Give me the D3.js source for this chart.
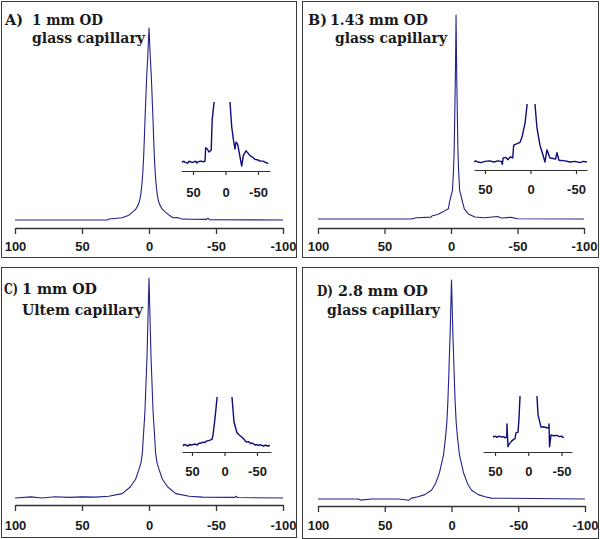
<!DOCTYPE html>
<html><head><meta charset="utf-8">
<script src="https://cdn.jsdelivr.net/npm/d3@7"></script>
<style>html,body{margin:0;padding:0;background:#fff}</style>
</head><body><svg id="c" width="600" height="539"></svg>
<script>
// ---------------- data ----------------
const panelLetters = ["A)", "B)", "C)", "D)"];
const titleLine1 = ["1 mm OD", "1.43 mm OD", "1 mm OD", "2.8 mm OD"];
const titleLine2 = ["glass capillary", "glass capillary", "Ultem capillary", "glass capillary"];
const mainTicks = [100, 50, 0, -50, -100];
const insetTicks = [50, 0, -50];

// main spectra: [ppm, relative intensity (peak = 100)]
const spectrumA = [[100,0],[60,0],[31,0],[30,0.5],[20,1.2],[15,2.5],[12.5,4],[10,5.5],[8,8],[7,10],[6,14],[5,21],[4.5,26],[4,33],[3.5,42],[3,52],[2.5,61],[2,70],[1.5,78],[1,84],[0.5,92],[0,100],[-0.5,92],[-1,84],[-1.5,78],[-2,70],[-2.5,61],[-3,52],[-3.5,42],[-4,33],[-4.5,26],[-5,21],[-6,14],[-7,10],[-8,8],[-10,5.5],[-12.5,4],[-15,2.5],[-18,1.2],[-21,1.3],[-24,0.6],[-30,0.4],[-43,0.3],[-44,1],[-45,0.2],[-100,0]];
const spectrumB = [[100,0],[30,0],[26,0.6],[15,0.9],[14,1.6],[10,2.2],[6,3.5],[2,5],[1.2,8],[-1.1,14],[-1.9,24],[-2.4,34],[-3.3,70],[-3.8,100],[-4.3,70],[-5.2,34],[-5.7,24],[-6.5,14],[-8.8,8],[-10,5],[-13,2.5],[-18,1],[-25,0.6],[-35,1.2],[-38,0.5],[-45,0.8],[-50,0.1],[-100,0]];
const spectrumC = [[100,0],[88,0.5],[80,0],[70,0.6],[60,0.3],[50,0.5],[40,0.4],[30,0.8],[20,2],[14,5],[10,8.5],[7.5,13],[6,16],[5,20],[4,30],[3.35,36],[3,40],[2,56],[1.5,64],[1,76],[0.5,88],[0,100],[-0.5,88],[-1,76],[-1.5,64],[-2,56],[-3,40],[-3.35,36],[-4,30],[-5,20],[-6,16],[-7.5,13],[-10,8.5],[-14,5],[-20,2],[-30,0.8],[-40,0.4],[-64,0.3],[-65,0.8],[-66,0.2],[-100,0]];
const spectrumD = [[100,0],[70,0],[68,-0.5],[60,0],[40,0],[32,-0.6],[30,0.4],[25,1],[20,2],[15,4],[12,7],[9,12],[7.5,16],[6,20],[4.5,28],[3.5,35],[2.75,44],[2,57],[1.5,67],[1,76],[0.5,88],[0,100],[-0.5,88],[-1,76],[-1.5,67],[-2,57],[-2.75,44],[-3.5,35],[-4.5,28],[-6,20],[-7.5,16],[-9,12],[-12,7],[-15,4],[-20,2],[-25,1],[-30,0.4],[-100,0]];

// insets: [ppm, intensity in inset units (0 = baseline, 100 = top of inset window)]
const insetA = [[67,1],[64,3],[62,1],[58,0],[56,3],[54,2],[50,1],[46,3],[44,0],[42,2],[38,3],[34,2],[31.5,3],[30.5,25],[28,23],[25.5,18],[22,21],[20.5,71],[17.5,100],[12,300],[5,800],[0,1000],[-3,400],[-6.9,100],[-9.5,60],[-12,39],[-14.6,23],[-16.2,34],[-18.7,31],[-22.3,10],[-24.9,-5],[-27.4,12],[-31.5,20],[-34,17],[-37.7,12],[-42,9],[-45.4,6],[-50,5],[-53,3],[-57,3],[-60,2],[-65.8,-1]];
const insetB = [[63,0],[60,2],[58,0],[54,-1],[50,1],[45,2],[40,0],[36,2],[32,1],[31,-4],[30,7],[27,8],[25,4],[22,9],[19.5,7],[18.5,29],[14,32],[11.5,34],[9.3,43],[6,67],[3.8,98],[0,400],[-2,400],[-4.9,100],[-7.1,59],[-10.4,29],[-13.7,12],[-15.9,0],[-18.1,21],[-21.4,7],[-25,6],[-27.5,5],[-29.1,16],[-31.3,3],[-37.9,2],[-43.4,0],[-48.9,1],[-54.4,-1],[-58,1],[-62,0]];
const insetC = [[64,0],[62,3],[60,2],[56,0],[54,3],[52,2],[48,3],[45,4],[42,2],[40,5],[36,6],[33,8],[30,7],[28,10],[25,11],[22,12],[19,14],[17.7,22],[14.6,57],[11.5,98],[5,400],[0,1000],[-5,400],[-11.5,100],[-14.6,49],[-19.2,27],[-23,22],[-26.9,18],[-30,14],[-32,10],[-34.6,8],[-37,9],[-40,5],[-43,6],[-46.9,2],[-50,3],[-52,1],[-55,3],[-57.7,1],[-60,0],[-63,2],[-66,0],[-70,1]];
const insetD = [[53,0],[50,2],[47,-1],[44,2],[40,0],[37,1],[35,-2],[32.3,0],[32,32],[30.5,-24],[29,-18],[27.4,-15],[25,-10],[22.9,-7],[20,-4],[18.4,10],[15.4,12],[13.9,46],[12.4,98],[5,400],[0,1000],[-5,400],[-13.1,100],[-14.7,54],[-19.2,24],[-23,25],[-28.2,22],[-31,24],[-31.2,32],[-32,-24],[-34.2,5],[-38,3],[-43.2,4],[-47,1],[-50,2],[-53.3,-2]];

const spectra = [spectrumA, spectrumB, spectrumC, spectrumD];
const insets = [insetA, insetB, insetC, insetD];

// ---------------- layout ----------------
const layout = [
  {box:[1,1,295,256], mainX:[15,283], mainY:[220,28], axisY:228, labelY:251,
   in50:[193,258], inExt:[181,270], inY:[163,102], inAxisY:171, inLabelY:197,
   t0:[5,25,18], t1:[32,25,71], t2:[32,43,113]},
  {box:[302,1,296,256], mainX:[318,584], mainY:[219,15], axisY:228, labelY:251,
   in50:[485,576], inExt:[474,587], inY:[162,104], inAxisY:170, inLabelY:194,
   t0:[308,25,19], t1:[330,25,98], t2:[335,43,112]},
  {box:[1,267,295,270], mainX:[15,283], mainY:[498,278], axisY:505, labelY:530,
   in50:[192,257], inExt:[182,271], inY:[446,397], inAxisY:452, inLabelY:476,
   t0:[4,294,14], t1:[22,294,75], t2:[22,315,121]},
  {box:[302,267,296,271], mainX:[318,585], mainY:[499,280], axisY:506, labelY:530,
   in50:[495,561.5], inExt:[483,572], inY:[437,396], inAxisY:452, inLabelY:476,
   t0:[317,296,16], t1:[338,296,90], t2:[327,315,113]}
];

const svg = d3.select("#c");
const traceMain = "#22228c", traceInset = "#0c0c7a", axisCol = "#333", textCol = "#1a1a1a";
const tickFont = "'Liberation Sans', Arial, sans-serif";
const titleFont = "'DejaVu Serif', serif";

layout.forEach((L, i) => {
  const g = svg.append("g");
  // frame
  g.append("rect").attr("x", L.box[0] + 0.5).attr("y", L.box[1] + 0.5)
    .attr("width", L.box[2]).attr("height", L.box[3])
    .attr("fill", "none").attr("stroke", "#3a3a3a").attr("stroke-width", 1);

  // main spectrum
  const x = d3.scaleLinear().domain([mainTicks[0], mainTicks[mainTicks.length - 1]]).range(L.mainX);
  const y = d3.scaleLinear().domain([0, 100]).range(L.mainY);
  const line = d3.line().x(d => x(d[0])).y(d => y(d[1]));
  g.append("path").datum(spectra[i]).attr("d", line)
    .attr("fill", "none").attr("stroke", traceMain).attr("stroke-width", 1.1)
    .attr("stroke-linejoin", "round");

  const ax = g.append("g").attr("transform", `translate(0,${L.axisY})`)
    .call(d3.axisBottom(x).tickValues(mainTicks).tickSize(6).tickSizeOuter(0).tickFormat(d3.format("d")));
  ax.select(".domain").attr("stroke", axisCol).attr("stroke-width", 1.3);
  ax.selectAll(".tick line").attr("stroke", axisCol).attr("stroke-width", 1.3);
  ax.selectAll("text").attr("y", L.labelY - L.axisY).attr("dy", null)
    .attr("fill", textCol).style("font-family", tickFont).style("font-weight", "bold").style("font-size", "13px")
    .text(d => d === 0 ? "0" : String(d).replace("\u2212", "-"));

  // inset
  const xi0 = d3.scaleLinear().domain([insetTicks[0], insetTicks[2]]).range(L.in50);
  const xi = d3.scaleLinear().domain([xi0.invert(L.inExt[0]), xi0.invert(L.inExt[1])]).range(L.inExt);
  const yi = d3.scaleLinear().domain([0, 100]).range(L.inY);
  const clipId = "clip" + i;
  svg.append("clipPath").attr("id", clipId).append("rect")
    .attr("x", L.inExt[0]).attr("y", L.inY[1])
    .attr("width", L.inExt[1] - L.inExt[0]).attr("height", L.inAxisY - 2 - L.inY[1]);
  const linei = d3.line().x(d => xi(d[0])).y(d => yi(d[1]));
  g.append("path").datum(insets[i]).attr("d", linei).attr("clip-path", `url(#${clipId})`)
    .attr("fill", "none").attr("stroke", traceInset).attr("stroke-width", 1.4)
    .attr("stroke-linejoin", "round");

  const axi = g.append("g").attr("transform", `translate(0,${L.inAxisY})`)
    .call(d3.axisBottom(xi).tickValues(insetTicks).tickSize(4).tickSizeOuter(0));
  axi.select(".domain").attr("stroke", axisCol).attr("stroke-width", 1.2);
  axi.selectAll(".tick line").attr("stroke", axisCol).attr("stroke-width", 1.2);
  axi.selectAll("text").attr("y", L.inLabelY - L.inAxisY).attr("dy", null)
    .attr("fill", textCol).style("font-family", tickFont).style("font-weight", "bold").style("font-size", "13px")
    .text(d => d === 0 ? "0" : String(d).replace("\u2212", "-"));

  // titles
  const tstyle = s => s.attr("fill", textCol).style("font-family", titleFont)
    .style("font-weight", "bold").style("font-size", "14.5px");
  g.append("text").attr("x", L.t0[0]).attr("y", L.t0[1]).text(panelLetters[i]).call(tstyle)
    .attr("textLength", L.t0[2]).attr("lengthAdjust", "spacingAndGlyphs");
  g.append("text").attr("x", L.t1[0]).attr("y", L.t1[1]).text(titleLine1[i]).call(tstyle)
    .attr("textLength", L.t1[2]).attr("lengthAdjust", "spacingAndGlyphs");
  g.append("text").attr("x", L.t2[0]).attr("y", L.t2[1]).text(titleLine2[i]).call(tstyle)
    .attr("textLength", L.t2[2]).attr("lengthAdjust", "spacingAndGlyphs");
});
</script>
</body></html>
